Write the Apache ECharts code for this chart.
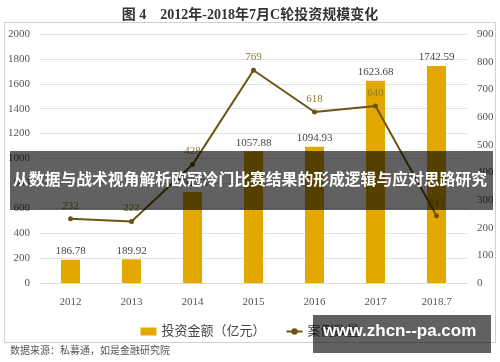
<!DOCTYPE html>
<html><head><meta charset="utf-8">
<script src="https://cdn.jsdelivr.net/npm/echarts@6/dist/echarts.min.js"></script>
<style>html,body{margin:0;padding:0;background:#fff}#c{width:500px;height:362px}</style>
</head><body><div id="c"></div>
<script>
const categories = ['2012','2013','2014','2015','2016','2017','2018.7'];
const investAmount = [186.78, 189.92, 731.53, 1057.88, 1094.93, 1623.68, 1742.59];
const caseCount = [232, 222, 428, 769, 618, 640, 243];
const titleText = '图 4    2012年-2018年7月C轮投资规模变化';
const sourceText = '数据来源：私募通，如是金融研究院';
const bannerText = '从数据与战术视角解析欧冠冷门比赛结果的形成逻辑与应对思路研究';
const watermarkText = 'www.zhcn--pa.com';

const serif = '"Liberation Serif","DejaVu Serif","Noto Sans CJK SC",serif';
const chart = echarts.init(document.getElementById('c'));
chart.setOption({
  animation: false,
  backgroundColor: '#fff',
  title: { text: titleText, left: 'center', top: 3,
    textStyle: { fontFamily: serif, fontSize: 14, fontWeight: 'bold', color: '#333' } },
  grid: { left: 40, right: 33, top: 34, bottom: 79, outerBoundsMode: 'none', containLabel: false },
  legend: {
    top: 320, left: 'center', itemGap: 20, itemWidth: 16, itemHeight: 8,
    textStyle: { fontFamily: serif, fontSize: 13, color: '#444' },
    data: [{ name: '投资金额（亿元）', icon: 'rect' }, { name: '案例数量' }]
  },
  xAxis: { type: 'category', data: categories,
    axisLine: { lineStyle: { color: '#d9d9d9' } }, axisTick: { show: false },
    axisLabel: { fontFamily: serif, fontSize: 11, color: '#555', margin: 14 } },
  yAxis: [
    { type: 'value', min: 0, max: 2000, interval: 200,
      axisLine: { show: false }, axisTick: { show: false },
      splitLine: { lineStyle: { color: '#e3e3e3' } },
      axisLabel: { fontFamily: serif, fontSize: 11, color: '#555', margin: 10, formatter: v => String(v) } },
    { type: 'value', min: 0, max: 900, interval: 100,
      axisLine: { show: false }, axisTick: { show: false }, splitLine: { show: false },
      axisLabel: { fontFamily: serif, fontSize: 11, color: '#555', margin: 10, formatter: v => String(v) } }
  ],
  series: [
    { name: '投资金额（亿元）', type: 'bar', data: investAmount, barWidth: 19,
      itemStyle: { color: '#e2a800' },
      label: { show: true, position: 'top', distance: 3, fontFamily: serif, fontSize: 11, color: '#444' } },
    { name: '案例数量', type: 'line', yAxisIndex: 1, data: caseCount,
      symbol: 'circle', symbolSize: 5,
      lineStyle: { color: '#6b5512', width: 2 }, itemStyle: { color: '#6b5512' },
      label: { show: true, position: 'top', distance: 5, fontFamily: serif, fontSize: 11, color: '#8f7a36' } }
  ],
  graphic: [
    { type: 'rect', z: 0, silent: true, shape: { x: 4.5, y: 22.5, width: 491, height: 320 },
      style: { fill: 'none', stroke: '#d0d0d0', lineWidth: 1 } },
    { type: 'text', left: 10, top: 346, z: 10,
      style: { text: sourceText, fontFamily: serif, fontSize: 10, fill: '#555' } },
    { type: 'rect', z: 100, silent: true, shape: { x: 10, y: 151, width: 483, height: 59 },
      style: { fill: 'rgba(0,0,0,0.62)' } },
    { type: 'text', z: 101, left: 'center', top: 171,
      style: { text: bannerText, fontFamily: '"Noto Sans CJK SC",sans-serif', fontSize: 15.8, fontWeight: 'bold', fill: '#fff' } },
    { type: 'rect', z: 100, silent: true, shape: { x: 313, y: 315, width: 178, height: 38 },
      style: { fill: 'rgba(0,0,0,0.62)' } },
    { type: 'text', z: 101, left: 323, top: 323,
      style: { text: watermarkText, fontFamily: '"Liberation Sans",Arial,sans-serif', fontSize: 17, fontWeight: 'bold', fill: '#fff' } }
  ]
});
</script></body></html>
